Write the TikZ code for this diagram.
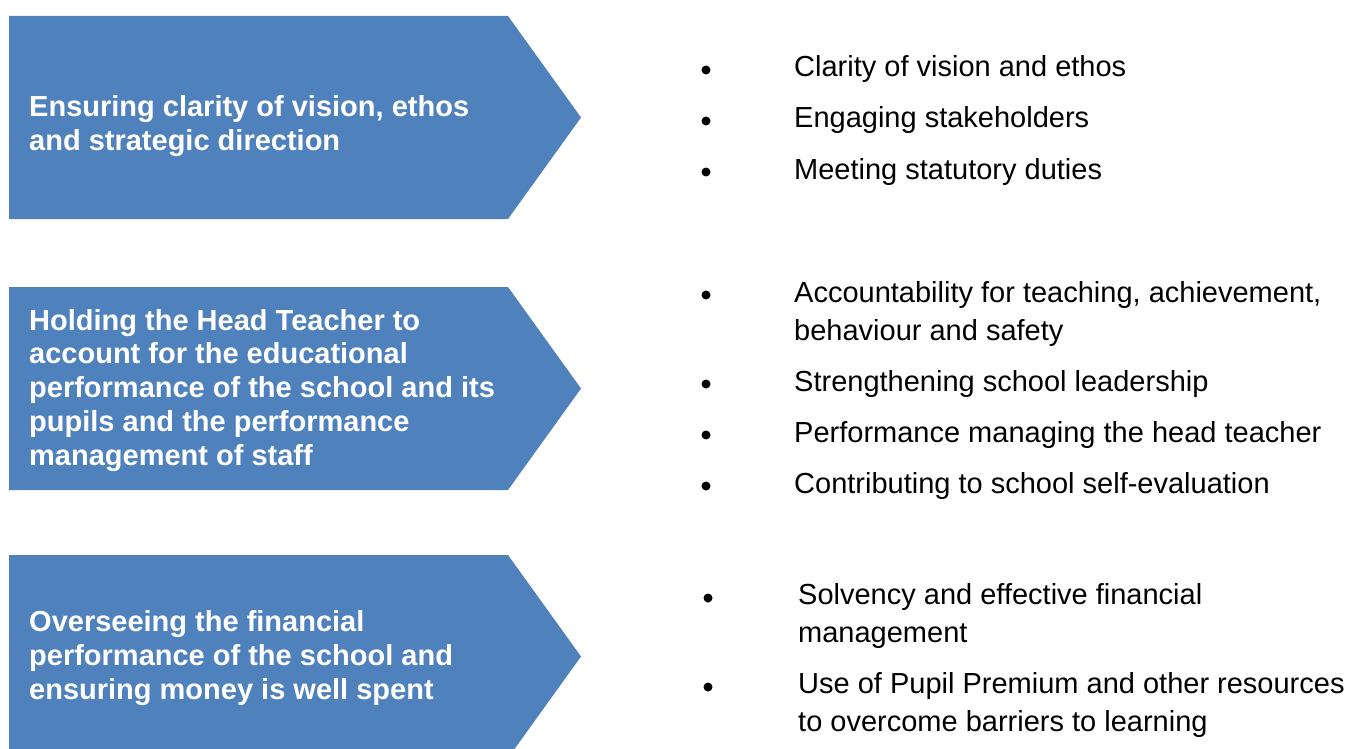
\documentclass[tikz,border=0pt]{standalone}
\usepackage{fontspec}
\setmainfont{Liberation Sans}
\definecolor{dutyblue}{HTML}{4F81BD}
\tikzset{
  duty/.style={fill=dutyblue},
  dutytext/.style={anchor=base west, align=left, inner sep=0pt, text=white,
    font=\bfseries\fontsize{29}{33.7}\selectfont},
  itemtext/.style={anchor=base west, align=left, inner sep=0pt,
    font=\fontsize{29}{38}\selectfont},
  dot/.style={circle, fill=black, inner sep=0pt, minimum size=9pt},
}
\begin{document}
\begin{tikzpicture}[x=1pt,y=-1pt]%
\clip (0,0) rectangle (1352,749);%
%
% the three duties (text is placed by its last baseline)
\def\ytop{16};%
\fill[duty] (9,\ytop) -- ++(499,0) -- ++(73,101.5) -- ++(-73,101.5) -- ++(-499,0) -- cycle;%
\node[dutytext] (vision) at (29,\ytop+134) {Ensuring clarity of vision, ethos\\and strategic direction};%
%
\def\ytop{287};%
\fill[duty] (9,\ytop) -- ++(499,0) -- ++(73,101.5) -- ++(-73,101.5) -- ++(-499,0) -- cycle;%
\node[dutytext] (account) at (29,\ytop+178) {Holding the Head Teacher to\\account for the educational\\performance of the school and its\\pupils and the performance\\management of staff};%
%
\def\ytop{555};%
\fill[duty] (9,\ytop) -- ++(499,0) -- ++(73,101.5) -- ++(-73,101.5) -- ++(-499,0) -- cycle;%
\node[dutytext] (finance) at (29,\ytop+144) {Overseeing the financial\\performance of the school and\\ensuring money is well spent};%
%
% bullet points, \ypos is the first baseline
\def\xdot{706};%
\def\xtext{794};%
\def\ypos{77};%
\node[dot] (dota) at (\xdot,\ypos-7) {};%
\node[itemtext] (itema) at (\xtext,\ypos) {Clarity of vision and ethos};%
\def\ypos{128};%
\node[dot] (dotb) at (\xdot,\ypos-7) {};%
\node[itemtext] (itemb) at (\xtext,\ypos) {Engaging stakeholders};%
\def\ypos{179};%
\node[dot] (dotc) at (\xdot,\ypos-7) {};%
\node[itemtext] (itemc) at (\xtext,\ypos) {Meeting statutory duties};%
%
\def\ypos{302};%
\node[dot] (dotd) at (\xdot,\ypos-7) {};%
\node[itemtext] (itemd) at (\xtext,\ypos+38) {Accountability for teaching, achievement,\\behaviour and safety};%
\def\ypos{391};%
\node[dot] (dote) at (\xdot,\ypos-7) {};%
\node[itemtext] (iteme) at (\xtext,\ypos) {Strengthening school leadership};%
\def\ypos{442};%
\node[dot] (dotf) at (\xdot,\ypos-7) {};%
\node[itemtext] (itemf) at (\xtext,\ypos) {Performance managing the head teacher};%
\def\ypos{493};%
\node[dot] (dotg) at (\xdot,\ypos-7) {};%
\node[itemtext] (itemg) at (\xtext,\ypos) {Contributing to school self-evaluation};%
%
\def\xdot{708};%
\def\xtext{798};%
\def\ypos{604};%
\node[dot] (doth) at (\xdot,\ypos-6) {};%
\node[itemtext] (itemh) at (\xtext,\ypos+38) {Solvency and effective financial\\management};%
\def\ypos{693};%
\node[dot] (doti) at (\xdot,\ypos-6) {};%
\node[itemtext] (itemi) at (\xtext,\ypos+38) {Use of Pupil Premium and other resources\\to overcome barriers to learning};%
\end{tikzpicture}
\end{document}
